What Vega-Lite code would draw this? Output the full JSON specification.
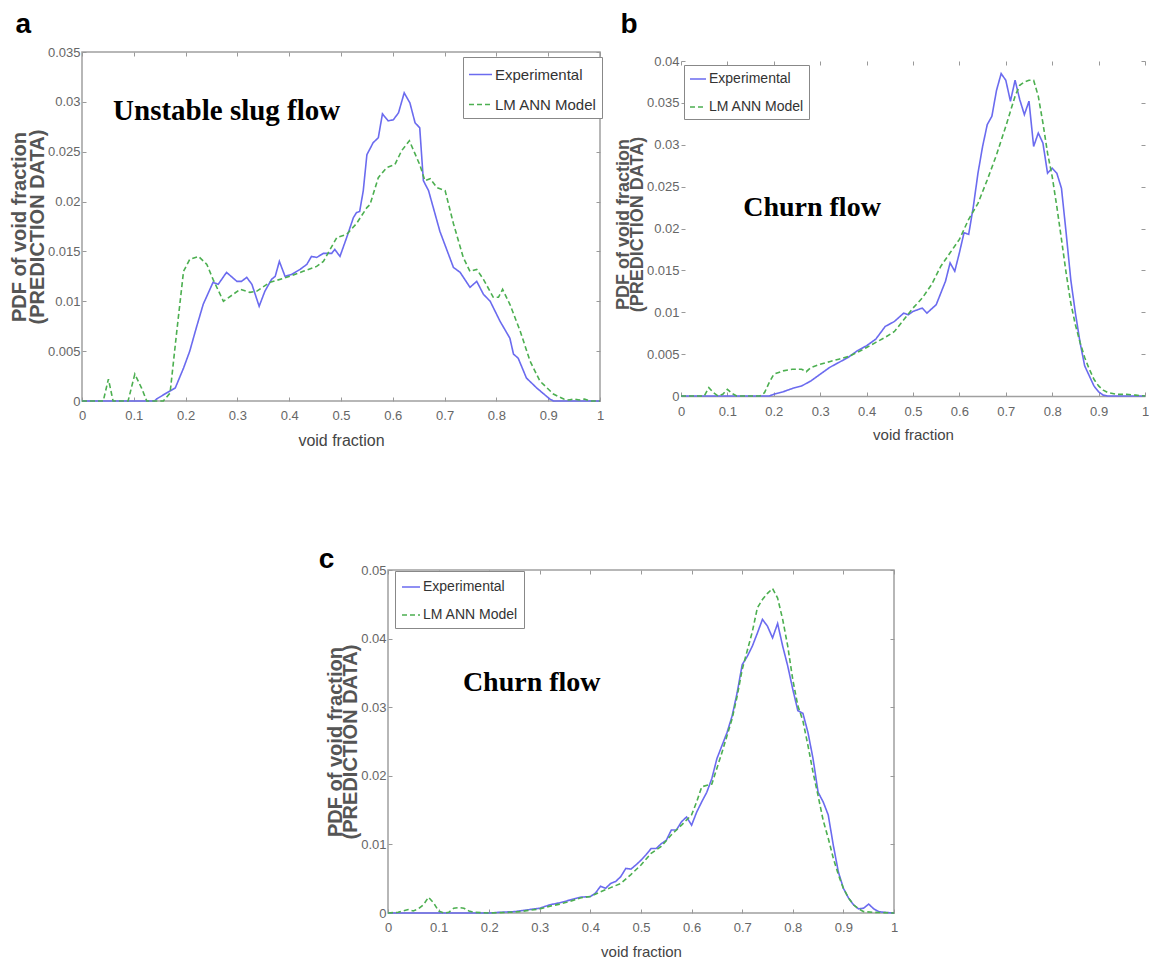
{
  "$schema": "https://vega.github.io/schema/vega-lite/v6.json",
  "padding": {"left": 8, "top": 10, "right": 0, "bottom": 0},
  "background": "white",
  "config": {
    "font": "Liberation Sans",
    "view": {"stroke": "#a0a0a0", "strokeWidth": 1.5},
    "title": {"font": "Liberation Sans", "fontSize": 28, "fontWeight": "bold", "color": "#000", "anchor": "start", "frame": "bounds"},
    "axis": {"grid": false, "domain": false, "tickColor": "#999", "tickSize": -4, "tickWidth": 1, "labelPadding": 6, "labelFont": "Liberation Sans", "labelFontSize": 13, "labelColor": "#666", "titleFont": "Liberation Sans", "titleColor": "#444", "titleFontWeight": "normal"},
    "axisX": {"labelPadding": 12, "titlePadding": 10, "labelFlush": false},
    "axisY": {"titleFontWeight": "bold", "titlePadding": 0, "titleColor": "#555"},
    "legend": {"title": null, "symbolType": "stroke", "symbolStrokeWidth": 1.6, "labelFont": "Liberation Sans", "labelColor": "#333", "strokeColor": "#888", "fillColor": "white", "padding": 6, "rowPadding": 11, "labelOffset": 2},
    "line": {"strokeWidth": 1.6}
  },
  "datasets": {
    "a": [
      {"x":0,"y":0,"s":"Experimental"},{"x":0.14,"y":0,"s":"Experimental"},{"x":0.144,"y":0.0002,"s":"Experimental"},{"x":0.163,"y":0.0008,"s":"Experimental"},{"x":0.18,"y":0.0013,"s":"Experimental"},{"x":0.196,"y":0.0033,"s":"Experimental"},{"x":0.208,"y":0.005,"s":"Experimental"},{"x":0.221,"y":0.0074,"s":"Experimental"},{"x":0.234,"y":0.0097,"s":"Experimental"},{"x":0.253,"y":0.0119,"s":"Experimental"},{"x":0.263,"y":0.0117,"s":"Experimental"},{"x":0.279,"y":0.0129,"s":"Experimental"},{"x":0.299,"y":0.012,"s":"Experimental"},{"x":0.308,"y":0.012,"s":"Experimental"},{"x":0.318,"y":0.0124,"s":"Experimental"},{"x":0.328,"y":0.0117,"s":"Experimental"},{"x":0.342,"y":0.0095,"s":"Experimental"},{"x":0.353,"y":0.011,"s":"Experimental"},{"x":0.366,"y":0.0122,"s":"Experimental"},{"x":0.373,"y":0.0125,"s":"Experimental"},{"x":0.381,"y":0.014,"s":"Experimental"},{"x":0.392,"y":0.0125,"s":"Experimental"},{"x":0.405,"y":0.0127,"s":"Experimental"},{"x":0.421,"y":0.0132,"s":"Experimental"},{"x":0.434,"y":0.0137,"s":"Experimental"},{"x":0.443,"y":0.0145,"s":"Experimental"},{"x":0.453,"y":0.0144,"s":"Experimental"},{"x":0.466,"y":0.0148,"s":"Experimental"},{"x":0.482,"y":0.0148,"s":"Experimental"},{"x":0.488,"y":0.0152,"s":"Experimental"},{"x":0.498,"y":0.0145,"s":"Experimental"},{"x":0.511,"y":0.0164,"s":"Experimental"},{"x":0.524,"y":0.0184,"s":"Experimental"},{"x":0.53,"y":0.0189,"s":"Experimental"},{"x":0.536,"y":0.019,"s":"Experimental"},{"x":0.543,"y":0.0211,"s":"Experimental"},{"x":0.55,"y":0.0247,"s":"Experimental"},{"x":0.562,"y":0.0259,"s":"Experimental"},{"x":0.572,"y":0.0264,"s":"Experimental"},{"x":0.58,"y":0.0288,"s":"Experimental"},{"x":0.591,"y":0.0281,"s":"Experimental"},{"x":0.601,"y":0.0282,"s":"Experimental"},{"x":0.611,"y":0.0289,"s":"Experimental"},{"x":0.622,"y":0.0309,"s":"Experimental"},{"x":0.633,"y":0.0299,"s":"Experimental"},{"x":0.643,"y":0.0279,"s":"Experimental"},{"x":0.652,"y":0.0274,"s":"Experimental"},{"x":0.659,"y":0.0221,"s":"Experimental"},{"x":0.669,"y":0.0211,"s":"Experimental"},{"x":0.691,"y":0.017,"s":"Experimental"},{"x":0.717,"y":0.0134,"s":"Experimental"},{"x":0.73,"y":0.0129,"s":"Experimental"},{"x":0.749,"y":0.0114,"s":"Experimental"},{"x":0.762,"y":0.012,"s":"Experimental"},{"x":0.775,"y":0.0107,"s":"Experimental"},{"x":0.788,"y":0.01,"s":"Experimental"},{"x":0.807,"y":0.008,"s":"Experimental"},{"x":0.826,"y":0.0063,"s":"Experimental"},{"x":0.833,"y":0.0047,"s":"Experimental"},{"x":0.842,"y":0.0043,"s":"Experimental"},{"x":0.858,"y":0.0023,"s":"Experimental"},{"x":0.878,"y":0.0013,"s":"Experimental"},{"x":0.903,"y":0.0002,"s":"Experimental"},{"x":0.91,"y":0,"s":"Experimental"},{"x":1,"y":0,"s":"Experimental"},
      {"x":0,"y":0,"s":"LM ANN Model"},{"x":0.041,"y":0,"s":"LM ANN Model"},{"x":0.051,"y":0.0022,"s":"LM ANN Model"},{"x":0.06,"y":0,"s":"LM ANN Model"},{"x":0.089,"y":0,"s":"LM ANN Model"},{"x":0.102,"y":0.0027,"s":"LM ANN Model"},{"x":0.115,"y":0.0013,"s":"LM ANN Model"},{"x":0.125,"y":0,"s":"LM ANN Model"},{"x":0.157,"y":0,"s":"LM ANN Model"},{"x":0.17,"y":0.0008,"s":"LM ANN Model"},{"x":0.183,"y":0.007,"s":"LM ANN Model"},{"x":0.196,"y":0.013,"s":"LM ANN Model"},{"x":0.208,"y":0.0142,"s":"LM ANN Model"},{"x":0.225,"y":0.0145,"s":"LM ANN Model"},{"x":0.241,"y":0.0137,"s":"LM ANN Model"},{"x":0.253,"y":0.0122,"s":"LM ANN Model"},{"x":0.273,"y":0.01,"s":"LM ANN Model"},{"x":0.292,"y":0.0107,"s":"LM ANN Model"},{"x":0.305,"y":0.0112,"s":"LM ANN Model"},{"x":0.324,"y":0.0109,"s":"LM ANN Model"},{"x":0.337,"y":0.011,"s":"LM ANN Model"},{"x":0.363,"y":0.0119,"s":"LM ANN Model"},{"x":0.395,"y":0.0124,"s":"LM ANN Model"},{"x":0.427,"y":0.013,"s":"LM ANN Model"},{"x":0.453,"y":0.0135,"s":"LM ANN Model"},{"x":0.466,"y":0.014,"s":"LM ANN Model"},{"x":0.492,"y":0.0164,"s":"LM ANN Model"},{"x":0.511,"y":0.0167,"s":"LM ANN Model"},{"x":0.53,"y":0.0178,"s":"LM ANN Model"},{"x":0.55,"y":0.0194,"s":"LM ANN Model"},{"x":0.556,"y":0.0197,"s":"LM ANN Model"},{"x":0.572,"y":0.0224,"s":"LM ANN Model"},{"x":0.588,"y":0.0234,"s":"LM ANN Model"},{"x":0.604,"y":0.0237,"s":"LM ANN Model"},{"x":0.617,"y":0.0251,"s":"LM ANN Model"},{"x":0.632,"y":0.0261,"s":"LM ANN Model"},{"x":0.652,"y":0.0237,"s":"LM ANN Model"},{"x":0.662,"y":0.0221,"s":"LM ANN Model"},{"x":0.672,"y":0.0223,"s":"LM ANN Model"},{"x":0.685,"y":0.0214,"s":"LM ANN Model"},{"x":0.701,"y":0.0211,"s":"LM ANN Model"},{"x":0.717,"y":0.0178,"s":"LM ANN Model"},{"x":0.736,"y":0.0144,"s":"LM ANN Model"},{"x":0.749,"y":0.013,"s":"LM ANN Model"},{"x":0.762,"y":0.0132,"s":"LM ANN Model"},{"x":0.775,"y":0.0122,"s":"LM ANN Model"},{"x":0.794,"y":0.0104,"s":"LM ANN Model"},{"x":0.804,"y":0.0104,"s":"LM ANN Model"},{"x":0.812,"y":0.0112,"s":"LM ANN Model"},{"x":0.826,"y":0.0097,"s":"LM ANN Model"},{"x":0.846,"y":0.007,"s":"LM ANN Model"},{"x":0.865,"y":0.004,"s":"LM ANN Model"},{"x":0.884,"y":0.002,"s":"LM ANN Model"},{"x":0.91,"y":0.0007,"s":"LM ANN Model"},{"x":0.93,"y":0.0002,"s":"LM ANN Model"},{"x":0.94,"y":0.0001,"s":"LM ANN Model"},{"x":0.95,"y":0.0002,"s":"LM ANN Model"},{"x":0.96,"y":0.0001,"s":"LM ANN Model"},{"x":0.97,"y":0.0002,"s":"LM ANN Model"},{"x":0.98,"y":0,"s":"LM ANN Model"},{"x":1,"y":0,"s":"LM ANN Model"}
    ],
    "b": [
      {"x":0,"y":0,"s":"Experimental"},{"x":0.19,"y":0,"s":"Experimental"},{"x":0.2,"y":0.0002,"s":"Experimental"},{"x":0.22,"y":0.0005,"s":"Experimental"},{"x":0.24,"y":0.0009,"s":"Experimental"},{"x":0.26,"y":0.0012,"s":"Experimental"},{"x":0.28,"y":0.0018,"s":"Experimental"},{"x":0.3,"y":0.0026,"s":"Experimental"},{"x":0.32,"y":0.0034,"s":"Experimental"},{"x":0.34,"y":0.004,"s":"Experimental"},{"x":0.36,"y":0.0046,"s":"Experimental"},{"x":0.38,"y":0.0054,"s":"Experimental"},{"x":0.4,"y":0.006,"s":"Experimental"},{"x":0.42,"y":0.0068,"s":"Experimental"},{"x":0.44,"y":0.0083,"s":"Experimental"},{"x":0.46,"y":0.0089,"s":"Experimental"},{"x":0.48,"y":0.0099,"s":"Experimental"},{"x":0.49,"y":0.0097,"s":"Experimental"},{"x":0.5,"y":0.0101,"s":"Experimental"},{"x":0.52,"y":0.0105,"s":"Experimental"},{"x":0.53,"y":0.0099,"s":"Experimental"},{"x":0.55,"y":0.0109,"s":"Experimental"},{"x":0.56,"y":0.0123,"s":"Experimental"},{"x":0.57,"y":0.0137,"s":"Experimental"},{"x":0.58,"y":0.0159,"s":"Experimental"},{"x":0.59,"y":0.0149,"s":"Experimental"},{"x":0.6,"y":0.0171,"s":"Experimental"},{"x":0.61,"y":0.0195,"s":"Experimental"},{"x":0.62,"y":0.0193,"s":"Experimental"},{"x":0.63,"y":0.0226,"s":"Experimental"},{"x":0.64,"y":0.0266,"s":"Experimental"},{"x":0.65,"y":0.0298,"s":"Experimental"},{"x":0.66,"y":0.0324,"s":"Experimental"},{"x":0.67,"y":0.0334,"s":"Experimental"},{"x":0.68,"y":0.0365,"s":"Experimental"},{"x":0.69,"y":0.0385,"s":"Experimental"},{"x":0.7,"y":0.0377,"s":"Experimental"},{"x":0.71,"y":0.0352,"s":"Experimental"},{"x":0.72,"y":0.0377,"s":"Experimental"},{"x":0.73,"y":0.0354,"s":"Experimental"},{"x":0.74,"y":0.0336,"s":"Experimental"},{"x":0.75,"y":0.0352,"s":"Experimental"},{"x":0.76,"y":0.0298,"s":"Experimental"},{"x":0.77,"y":0.0314,"s":"Experimental"},{"x":0.78,"y":0.0302,"s":"Experimental"},{"x":0.79,"y":0.0266,"s":"Experimental"},{"x":0.8,"y":0.0272,"s":"Experimental"},{"x":0.81,"y":0.0266,"s":"Experimental"},{"x":0.82,"y":0.0248,"s":"Experimental"},{"x":0.83,"y":0.0195,"s":"Experimental"},{"x":0.84,"y":0.0139,"s":"Experimental"},{"x":0.85,"y":0.0099,"s":"Experimental"},{"x":0.86,"y":0.0064,"s":"Experimental"},{"x":0.87,"y":0.0036,"s":"Experimental"},{"x":0.88,"y":0.0024,"s":"Experimental"},{"x":0.89,"y":0.0012,"s":"Experimental"},{"x":0.9,"y":0.0005,"s":"Experimental"},{"x":0.91,"y":0.0001,"s":"Experimental"},{"x":0.92,"y":0,"s":"Experimental"},{"x":1,"y":0,"s":"Experimental"},
      {"x":0,"y":0,"s":"LM ANN Model"},{"x":0.05,"y":0,"s":"LM ANN Model"},{"x":0.06,"y":0.001,"s":"LM ANN Model"},{"x":0.07,"y":0.0004,"s":"LM ANN Model"},{"x":0.08,"y":0,"s":"LM ANN Model"},{"x":0.09,"y":0.0002,"s":"LM ANN Model"},{"x":0.1,"y":0.0008,"s":"LM ANN Model"},{"x":0.11,"y":0.0003,"s":"LM ANN Model"},{"x":0.12,"y":0,"s":"LM ANN Model"},{"x":0.17,"y":0,"s":"LM ANN Model"},{"x":0.18,"y":0.0004,"s":"LM ANN Model"},{"x":0.19,"y":0.0016,"s":"LM ANN Model"},{"x":0.2,"y":0.0026,"s":"LM ANN Model"},{"x":0.22,"y":0.003,"s":"LM ANN Model"},{"x":0.24,"y":0.0032,"s":"LM ANN Model"},{"x":0.26,"y":0.0032,"s":"LM ANN Model"},{"x":0.27,"y":0.0029,"s":"LM ANN Model"},{"x":0.28,"y":0.0034,"s":"LM ANN Model"},{"x":0.3,"y":0.0038,"s":"LM ANN Model"},{"x":0.32,"y":0.0041,"s":"LM ANN Model"},{"x":0.34,"y":0.0044,"s":"LM ANN Model"},{"x":0.36,"y":0.0047,"s":"LM ANN Model"},{"x":0.38,"y":0.0052,"s":"LM ANN Model"},{"x":0.4,"y":0.0058,"s":"LM ANN Model"},{"x":0.42,"y":0.0064,"s":"LM ANN Model"},{"x":0.44,"y":0.007,"s":"LM ANN Model"},{"x":0.46,"y":0.0077,"s":"LM ANN Model"},{"x":0.48,"y":0.0091,"s":"LM ANN Model"},{"x":0.5,"y":0.0105,"s":"LM ANN Model"},{"x":0.52,"y":0.0117,"s":"LM ANN Model"},{"x":0.54,"y":0.0133,"s":"LM ANN Model"},{"x":0.56,"y":0.0155,"s":"LM ANN Model"},{"x":0.58,"y":0.0171,"s":"LM ANN Model"},{"x":0.6,"y":0.0187,"s":"LM ANN Model"},{"x":0.62,"y":0.0211,"s":"LM ANN Model"},{"x":0.64,"y":0.023,"s":"LM ANN Model"},{"x":0.66,"y":0.0258,"s":"LM ANN Model"},{"x":0.68,"y":0.0288,"s":"LM ANN Model"},{"x":0.7,"y":0.0322,"s":"LM ANN Model"},{"x":0.72,"y":0.0358,"s":"LM ANN Model"},{"x":0.73,"y":0.0371,"s":"LM ANN Model"},{"x":0.74,"y":0.0375,"s":"LM ANN Model"},{"x":0.75,"y":0.0377,"s":"LM ANN Model"},{"x":0.76,"y":0.0377,"s":"LM ANN Model"},{"x":0.77,"y":0.0358,"s":"LM ANN Model"},{"x":0.78,"y":0.0326,"s":"LM ANN Model"},{"x":0.79,"y":0.029,"s":"LM ANN Model"},{"x":0.8,"y":0.0262,"s":"LM ANN Model"},{"x":0.81,"y":0.0226,"s":"LM ANN Model"},{"x":0.82,"y":0.0187,"s":"LM ANN Model"},{"x":0.83,"y":0.0147,"s":"LM ANN Model"},{"x":0.84,"y":0.0111,"s":"LM ANN Model"},{"x":0.85,"y":0.0085,"s":"LM ANN Model"},{"x":0.86,"y":0.0064,"s":"LM ANN Model"},{"x":0.87,"y":0.0046,"s":"LM ANN Model"},{"x":0.88,"y":0.0032,"s":"LM ANN Model"},{"x":0.89,"y":0.002,"s":"LM ANN Model"},{"x":0.9,"y":0.0012,"s":"LM ANN Model"},{"x":0.91,"y":0.0007,"s":"LM ANN Model"},{"x":0.92,"y":0.0004,"s":"LM ANN Model"},{"x":0.94,"y":0.0002,"s":"LM ANN Model"},{"x":0.96,"y":0.0002,"s":"LM ANN Model"},{"x":0.98,"y":0.0001,"s":"LM ANN Model"},{"x":1,"y":0,"s":"LM ANN Model"}
    ],
    "c": [
      {"x":0,"y":0,"s":"Experimental"},{"x":0.2,"y":0,"s":"Experimental"},{"x":0.22,"y":0.0001,"s":"Experimental"},{"x":0.25,"y":0.0002,"s":"Experimental"},{"x":0.28,"y":0.0005,"s":"Experimental"},{"x":0.3,"y":0.0007,"s":"Experimental"},{"x":0.32,"y":0.0012,"s":"Experimental"},{"x":0.34,"y":0.0015,"s":"Experimental"},{"x":0.36,"y":0.0019,"s":"Experimental"},{"x":0.38,"y":0.0023,"s":"Experimental"},{"x":0.4,"y":0.0024,"s":"Experimental"},{"x":0.41,"y":0.0029,"s":"Experimental"},{"x":0.42,"y":0.0039,"s":"Experimental"},{"x":0.43,"y":0.0036,"s":"Experimental"},{"x":0.44,"y":0.0043,"s":"Experimental"},{"x":0.45,"y":0.0046,"s":"Experimental"},{"x":0.46,"y":0.0053,"s":"Experimental"},{"x":0.47,"y":0.0065,"s":"Experimental"},{"x":0.48,"y":0.0064,"s":"Experimental"},{"x":0.49,"y":0.007,"s":"Experimental"},{"x":0.5,"y":0.0077,"s":"Experimental"},{"x":0.51,"y":0.0085,"s":"Experimental"},{"x":0.52,"y":0.0094,"s":"Experimental"},{"x":0.53,"y":0.0094,"s":"Experimental"},{"x":0.54,"y":0.0101,"s":"Experimental"},{"x":0.55,"y":0.0106,"s":"Experimental"},{"x":0.56,"y":0.0121,"s":"Experimental"},{"x":0.57,"y":0.0121,"s":"Experimental"},{"x":0.58,"y":0.0133,"s":"Experimental"},{"x":0.59,"y":0.014,"s":"Experimental"},{"x":0.6,"y":0.0128,"s":"Experimental"},{"x":0.61,"y":0.0147,"s":"Experimental"},{"x":0.62,"y":0.0162,"s":"Experimental"},{"x":0.63,"y":0.0176,"s":"Experimental"},{"x":0.64,"y":0.0196,"s":"Experimental"},{"x":0.65,"y":0.0225,"s":"Experimental"},{"x":0.66,"y":0.0244,"s":"Experimental"},{"x":0.67,"y":0.0263,"s":"Experimental"},{"x":0.68,"y":0.0287,"s":"Experimental"},{"x":0.69,"y":0.0321,"s":"Experimental"},{"x":0.7,"y":0.0362,"s":"Experimental"},{"x":0.71,"y":0.0374,"s":"Experimental"},{"x":0.72,"y":0.0389,"s":"Experimental"},{"x":0.73,"y":0.0408,"s":"Experimental"},{"x":0.74,"y":0.0428,"s":"Experimental"},{"x":0.75,"y":0.0418,"s":"Experimental"},{"x":0.76,"y":0.0401,"s":"Experimental"},{"x":0.77,"y":0.0422,"s":"Experimental"},{"x":0.78,"y":0.0389,"s":"Experimental"},{"x":0.79,"y":0.036,"s":"Experimental"},{"x":0.8,"y":0.0326,"s":"Experimental"},{"x":0.81,"y":0.0295,"s":"Experimental"},{"x":0.82,"y":0.0291,"s":"Experimental"},{"x":0.83,"y":0.0263,"s":"Experimental"},{"x":0.84,"y":0.0225,"s":"Experimental"},{"x":0.85,"y":0.0176,"s":"Experimental"},{"x":0.86,"y":0.0162,"s":"Experimental"},{"x":0.87,"y":0.0143,"s":"Experimental"},{"x":0.88,"y":0.0099,"s":"Experimental"},{"x":0.89,"y":0.006,"s":"Experimental"},{"x":0.9,"y":0.0036,"s":"Experimental"},{"x":0.91,"y":0.0022,"s":"Experimental"},{"x":0.92,"y":0.0012,"s":"Experimental"},{"x":0.93,"y":0.0006,"s":"Experimental"},{"x":0.94,"y":0.0007,"s":"Experimental"},{"x":0.95,"y":0.0013,"s":"Experimental"},{"x":0.96,"y":0.0006,"s":"Experimental"},{"x":0.97,"y":0.0002,"s":"Experimental"},{"x":0.98,"y":0.0001,"s":"Experimental"},{"x":1,"y":0,"s":"Experimental"},
      {"x":0,"y":0,"s":"LM ANN Model"},{"x":0.02,"y":0.0001,"s":"LM ANN Model"},{"x":0.04,"y":0.0005,"s":"LM ANN Model"},{"x":0.05,"y":0.0003,"s":"LM ANN Model"},{"x":0.06,"y":0.0006,"s":"LM ANN Model"},{"x":0.07,"y":0.0012,"s":"LM ANN Model"},{"x":0.08,"y":0.0023,"s":"LM ANN Model"},{"x":0.09,"y":0.0015,"s":"LM ANN Model"},{"x":0.1,"y":0.0003,"s":"LM ANN Model"},{"x":0.11,"y":0,"s":"LM ANN Model"},{"x":0.12,"y":0.0001,"s":"LM ANN Model"},{"x":0.13,"y":0.0007,"s":"LM ANN Model"},{"x":0.14,"y":0.0008,"s":"LM ANN Model"},{"x":0.15,"y":0.0007,"s":"LM ANN Model"},{"x":0.16,"y":0.0003,"s":"LM ANN Model"},{"x":0.17,"y":0.0001,"s":"LM ANN Model"},{"x":0.2,"y":0,"s":"LM ANN Model"},{"x":0.24,"y":0.0001,"s":"LM ANN Model"},{"x":0.26,"y":0.0002,"s":"LM ANN Model"},{"x":0.28,"y":0.0004,"s":"LM ANN Model"},{"x":0.3,"y":0.0006,"s":"LM ANN Model"},{"x":0.32,"y":0.001,"s":"LM ANN Model"},{"x":0.34,"y":0.0013,"s":"LM ANN Model"},{"x":0.36,"y":0.0017,"s":"LM ANN Model"},{"x":0.38,"y":0.0022,"s":"LM ANN Model"},{"x":0.4,"y":0.0024,"s":"LM ANN Model"},{"x":0.42,"y":0.0031,"s":"LM ANN Model"},{"x":0.44,"y":0.0037,"s":"LM ANN Model"},{"x":0.46,"y":0.0043,"s":"LM ANN Model"},{"x":0.48,"y":0.0056,"s":"LM ANN Model"},{"x":0.5,"y":0.007,"s":"LM ANN Model"},{"x":0.52,"y":0.0087,"s":"LM ANN Model"},{"x":0.54,"y":0.0097,"s":"LM ANN Model"},{"x":0.56,"y":0.0114,"s":"LM ANN Model"},{"x":0.58,"y":0.0128,"s":"LM ANN Model"},{"x":0.6,"y":0.0143,"s":"LM ANN Model"},{"x":0.61,"y":0.0162,"s":"LM ANN Model"},{"x":0.62,"y":0.0184,"s":"LM ANN Model"},{"x":0.64,"y":0.0188,"s":"LM ANN Model"},{"x":0.66,"y":0.0234,"s":"LM ANN Model"},{"x":0.68,"y":0.0283,"s":"LM ANN Model"},{"x":0.69,"y":0.0316,"s":"LM ANN Model"},{"x":0.7,"y":0.0355,"s":"LM ANN Model"},{"x":0.72,"y":0.041,"s":"LM ANN Model"},{"x":0.73,"y":0.0445,"s":"LM ANN Model"},{"x":0.74,"y":0.0457,"s":"LM ANN Model"},{"x":0.75,"y":0.0466,"s":"LM ANN Model"},{"x":0.76,"y":0.0473,"s":"LM ANN Model"},{"x":0.77,"y":0.0459,"s":"LM ANN Model"},{"x":0.78,"y":0.0428,"s":"LM ANN Model"},{"x":0.79,"y":0.0389,"s":"LM ANN Model"},{"x":0.8,"y":0.034,"s":"LM ANN Model"},{"x":0.81,"y":0.0302,"s":"LM ANN Model"},{"x":0.82,"y":0.028,"s":"LM ANN Model"},{"x":0.83,"y":0.0244,"s":"LM ANN Model"},{"x":0.84,"y":0.0205,"s":"LM ANN Model"},{"x":0.85,"y":0.0171,"s":"LM ANN Model"},{"x":0.86,"y":0.0135,"s":"LM ANN Model"},{"x":0.87,"y":0.0109,"s":"LM ANN Model"},{"x":0.88,"y":0.008,"s":"LM ANN Model"},{"x":0.89,"y":0.0056,"s":"LM ANN Model"},{"x":0.9,"y":0.0036,"s":"LM ANN Model"},{"x":0.91,"y":0.0022,"s":"LM ANN Model"},{"x":0.92,"y":0.0012,"s":"LM ANN Model"},{"x":0.93,"y":0.0006,"s":"LM ANN Model"},{"x":0.94,"y":0.0002,"s":"LM ANN Model"},{"x":0.96,"y":0.0001,"s":"LM ANN Model"},{"x":1,"y":0,"s":"LM ANN Model"}
    ],
    "ta": [{"x": 0.06, "y": 0.0291, "t": "Unstable slug flow"}],
    "tb": [{"x": 0.134, "y": 0.02245, "t": "Churn flow"}],
    "tc": [{"x": 0.148, "y": 0.0335, "t": "Churn flow"}]
  },
  "resolve": {"scale": {"color": "independent", "strokeDash": "independent"}, "legend": {"color": "independent", "strokeDash": "independent"}},
  "vconcat": [
    {
      "resolve": {"scale": {"color": "independent", "strokeDash": "independent"}, "legend": {"color": "independent", "strokeDash": "independent"}},
      "hconcat": [
        {
          "width": 518, "height": 349,
          "title": {"text": "a", "offset": 7, "dx": 6},
          "resolve": {"axis": {"x": "independent", "y": "independent"}},
          "layer": [
            {
              "data": {"name": "a"},
              "mark": {"type": "line", "strokeWidth": 1.6},
              "encoding": {
                "x": {"field": "x", "type": "quantitative", "scale": {"domain": [0, 1], "nice": false}, "axis": {"values": [0,0.1,0.2,0.3,0.4,0.5,0.6,0.7,0.8,0.9,1], "format": "~g", "title": "void fraction", "titleFontSize": 16}},
                "y": {"field": "y", "type": "quantitative", "scale": {"domain": [0, 0.035], "nice": false}, "axis": {"values": [0,0.005,0.01,0.015,0.02,0.025,0.03,0.035], "format": "~g", "title": ["PDF of void fraction", "(PREDICTION DATA)"], "titleFontSize": 20, "titleLineHeight": 18}},
                "color": {"field": "s", "type": "nominal", "scale": {"domain": ["Experimental", "LM ANN Model"], "range": ["#6b6bef", "#4caf50"]}, "legend": {"orient": "none", "legendX": 381, "legendY": 5, "labelFontSize": 15, "symbolSize": 529, "padding": 5, "rowPadding": 9}},
                "strokeDash": {"field": "s", "type": "nominal", "scale": {"domain": ["Experimental", "LM ANN Model"], "range": [[1, 0], [5, 3]]}, "legend": {"orient": "none", "legendX": 381, "legendY": 5, "labelFontSize": 15, "symbolSize": 529, "padding": 5, "rowPadding": 9}}
              }
            },
            {
              "data": {"name": "ta"},
              "mark": {"type": "text", "font": "Liberation Serif", "fontWeight": "bold", "fontSize": 29, "align": "left", "baseline": "middle", "color": "#000"},
              "encoding": {
                "x": {"field": "x", "type": "quantitative", "axis": {"orient": "top", "labels": false, "title": null, "values": [0,0.1,0.2,0.3,0.4,0.5,0.6,0.7,0.8,0.9,1]}},
                "y": {"field": "y", "type": "quantitative", "axis": {"orient": "right", "labels": false, "title": null, "values": [0,0.005,0.01,0.015,0.02,0.025,0.03,0.035]}},
                "text": {"field": "t"}
              }
            }
          ]
        },
        {
          "width": 464, "height": 344,
          "title": {"text": "b", "offset": 13, "dx": 6},
          "view": {"stroke": null},
          "resolve": {"axis": {"x": "independent", "y": "independent"}},
          "layer": [
            {
              "data": {"name": "b"},
              "mark": {"type": "line", "strokeWidth": 1.6},
              "encoding": {
                "x": {"field": "x", "type": "quantitative", "scale": {"domain": [0, 1], "nice": false}, "axis": {"values": [0,0.1,0.2,0.3,0.4,0.5,0.6,0.7,0.8,0.9,1], "format": "~g", "title": "void fraction", "titleFontSize": 15, "labelPadding": 13, "titlePadding": 9, "domain": true, "domainColor": "#a0a0a0", "domainWidth": 1.5}},
                "y": {"field": "y", "type": "quantitative", "scale": {"domain": [0, 0.041075], "nice": false}, "axis": {"values": [0,0.005,0.01,0.015,0.02,0.025,0.03,0.035,0.04], "format": "~g", "title": ["PDF of void fraction", "(PREDICTION DATA)"], "titleFontSize": 18, "titleLineHeight": 14}},
                "color": {"field": "s", "type": "nominal", "scale": {"domain": ["Experimental", "LM ANN Model"], "range": ["#6b6bef", "#4caf50"]}, "legend": {"orient": "none", "legendX": 3, "legendY": 13, "labelFontSize": 14, "symbolSize": 256, "padding": 5, "rowPadding": 12}},
                "strokeDash": {"field": "s", "type": "nominal", "scale": {"domain": ["Experimental", "LM ANN Model"], "range": [[1, 0], [5, 3]]}, "legend": {"orient": "none", "legendX": 3, "legendY": 13, "labelFontSize": 14, "symbolSize": 256, "padding": 5, "rowPadding": 12}}
              }
            },
            {
              "data": {"name": "tb"},
              "mark": {"type": "text", "font": "Liberation Serif", "fontWeight": "bold", "fontSize": 28, "align": "left", "baseline": "middle", "color": "#000"},
              "encoding": {
                "x": {"field": "x", "type": "quantitative", "axis": {"orient": "top", "offset": -9, "labels": false, "title": null, "values": [0,0.1,0.2,0.3,0.4,0.5,0.6,0.7,0.8,0.9,1]}},
                "y": {"field": "y", "type": "quantitative", "axis": {"orient": "right", "labels": false, "title": null, "values": [0,0.005,0.01,0.015,0.02,0.025,0.03,0.035,0.04]}},
                "text": {"field": "t"}
              }
            },
            {
              "mark": {"type": "rule", "color": "#a0a0a0", "strokeWidth": 1.5},
              "encoding": {"x": {"datum": 0, "axis": null}, "y": {"datum": 0, "axis": null}, "y2": {"datum": 0.04}}
            },
            {
              "mark": {"type": "rule", "color": "#a0a0a0", "strokeWidth": 1.5},
              "encoding": {"x": {"datum": 1, "axis": null}, "y": {"datum": 0, "axis": null}, "y2": {"datum": 0.04}}
            },
            {
              "mark": {"type": "rule", "color": "#a0a0a0", "strokeWidth": 1.5},
              "encoding": {"x": {"datum": 0, "axis": null}, "x2": {"datum": 1}, "y": {"datum": 0.04, "axis": null}}
            }
          ]
        }
      ],
      "spacing": 9
    },
    {
      "resolve": {"scale": {"color": "independent", "strokeDash": "independent"}, "legend": {"color": "independent", "strokeDash": "independent"}},
      "hconcat": [
        {
          "width": 235, "height": 1,
          "data": {"values": []},
          "mark": "point",
          "view": {"stroke": null}
        },
        {
          "width": 506, "height": 343,
          "title": {"text": "c", "offset": -10, "dx": -7},
          "resolve": {"axis": {"x": "independent", "y": "independent"}},
          "layer": [
            {
              "data": {"name": "c"},
              "mark": {"type": "line", "strokeWidth": 1.6},
              "encoding": {
                "x": {"field": "x", "type": "quantitative", "scale": {"domain": [0, 1], "nice": false}, "axis": {"values": [0,0.1,0.2,0.3,0.4,0.5,0.6,0.7,0.8,0.9,1], "format": "~g", "title": "void fraction", "titleFontSize": 15, "titlePadding": 10}},
                "y": {"field": "y", "type": "quantitative", "scale": {"domain": [0, 0.05], "nice": false}, "axis": {"values": [0,0.01,0.02,0.03,0.04,0.05], "format": "~g", "title": ["PDF of void fraction", "(PREDICTION DATA)"], "titleFontSize": 20, "titleLineHeight": 15}},
                "color": {"field": "s", "type": "nominal", "scale": {"domain": ["Experimental", "LM ANN Model"], "range": ["#6b6bef", "#4caf50"]}, "legend": {"orient": "none", "legendX": 7, "legendY": 1, "labelFontSize": 14, "symbolSize": 324}},
                "strokeDash": {"field": "s", "type": "nominal", "scale": {"domain": ["Experimental", "LM ANN Model"], "range": [[1, 0], [5, 3]]}, "legend": {"orient": "none", "legendX": 7, "legendY": 1, "labelFontSize": 14, "symbolSize": 324}}
              }
            },
            {
              "data": {"name": "tc"},
              "mark": {"type": "text", "font": "Liberation Serif", "fontWeight": "bold", "fontSize": 28, "align": "left", "baseline": "middle", "color": "#000"},
              "encoding": {
                "x": {"field": "x", "type": "quantitative", "axis": {"orient": "top", "labels": false, "title": null, "values": [0,0.1,0.2,0.3,0.4,0.5,0.6,0.7,0.8,0.9,1]}},
                "y": {"field": "y", "type": "quantitative", "axis": {"orient": "right", "labels": false, "title": null, "values": [0,0.01,0.02,0.03,0.04,0.05]}},
                "text": {"field": "t"}
              }
            }
          ]
        }
      ],
      "spacing": 0
    }
  ],
  "spacing": 96
}
